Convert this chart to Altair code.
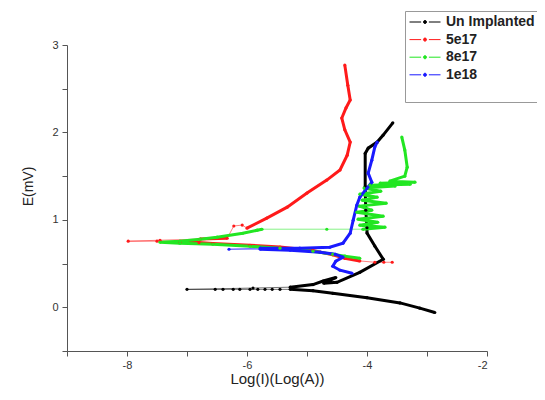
import altair as alt
import pandas as pd

series_names = ["Un Implanted", "5e17", "8e17", "1e18"]
series_colors = ["#000000", "#ff1a1a", "#22e622", "#1a1aff"]

# Un Implanted (black)
black_x = [-2.87, -3.12, -3.45, -4.0, -4.57, -4.9, -5.28, -5.45, -5.58, -5.7, -5.82, -5.95,
           -6.12, -6.23, -6.4, -6.53, -7.0, -5.9, -5.28, -4.9, -4.73, -4.52, -4.72, -4.5,
           -4.12, -3.73, -3.87, -4.0, -4.0, -4.02, -4.03, -4.03, -3.98, -3.83, -3.73, -3.57]
black_y = [-0.06, -0.01, 0.05, 0.11, 0.16, 0.19, 0.205, 0.205, 0.205, 0.205, 0.205, 0.205,
           0.205, 0.205, 0.205, 0.205, 0.205, 0.22, 0.23, 0.26, 0.30, 0.34, 0.275, 0.285,
           0.40, 0.55, 0.70, 0.85, 0.91, 1.11, 1.38, 1.76, 1.82, 1.89, 1.97, 2.11]
black_dense = [(0, 6), (18, 35)]

# 5e17 (red)
red_x = [-3.58, -3.72, -3.87, -4.12, -4.37, -4.57, -4.9, -5.45, -5.95, -6.57, -6.8, -7.12,
         -7.5, -7.98, -7.45, -6.78, -6.33, -6.22, -6.08, -6.0, -5.67, -5.33, -5.0, -4.67,
         -4.45, -4.33, -4.28, -4.37, -4.42, -4.35, -4.28, -4.32, -4.37]
red_y = [0.515, 0.515, 0.515, 0.53, 0.56, 0.60, 0.65, 0.69, 0.71, 0.73, 0.74, 0.745,
         0.756, 0.756, 0.767, 0.78, 0.79, 0.93, 0.94, 0.905, 1.02, 1.145, 1.306, 1.455,
         1.57, 1.74, 1.89, 2.03, 2.165, 2.28, 2.37, 2.54, 2.77]
red_dense = [(3, 11), (15, 16), (19, 32)]

# 8e17 (green)
green_x = [-4.12, -4.37, -4.57, -4.9, -5.45, -5.95, -6.57, -7.12, -7.45, -7.12, -6.78, -6.5,
           -6.07, -5.83, -5.75, -4.67, -4.07, -3.7, -4.12, -3.82, -4.15, -3.73, -4.17, -3.92,
           -4.13, -3.68, -4.08, -3.83, -4.12, -3.77, -4.05, -3.53, -3.95, -3.28, -3.78, -3.2,
           -3.62, -3.37, -3.33, -3.37, -3.42]
green_y = [0.56, 0.585, 0.607, 0.641, 0.676, 0.698, 0.721, 0.733, 0.744, 0.756, 0.779, 0.802,
           0.847, 0.882, 0.893, 0.893, 0.893, 0.916, 0.939, 0.973, 1.008, 1.042, 1.088, 1.111,
           1.157, 1.191, 1.225, 1.26, 1.294, 1.328, 1.363, 1.386, 1.397, 1.408, 1.42, 1.431,
           1.443, 1.5, 1.603, 1.798, 1.947]
green_dense = [(0, 14), (16, 40)]

# 1e18 (blue)
blue_x = [-4.25, -4.45, -4.57, -4.52, -4.4, -4.53, -4.78, -5.28, -5.78, -6.3, -5.78, -5.12,
          -4.62, -4.4, -4.28, -4.23, -4.17, -4.12, -4.0, -3.92, -3.98, -3.92, -3.87, -3.83]
blue_y = [0.389, 0.424, 0.469, 0.527, 0.573, 0.607, 0.63, 0.653, 0.664, 0.664, 0.676, 0.676,
          0.687, 0.733, 0.847, 0.996, 1.168, 1.26, 1.363, 1.431, 1.534, 1.683, 1.832, 1.889]
blue_dense = [(0, 8), (10, 23)]

all_x = [black_x, red_x, green_x, blue_x]
all_y = [black_y, red_y, green_y, blue_y]
all_dense = [black_dense, red_dense, green_dense, blue_dense]

rows, dense_rows = [], []
for name, xs, ys, runs in zip(series_names, all_x, all_y, all_dense):
    for i, (xv, yv) in enumerate(zip(xs, ys)):
        rows.append({"series": name, "x": xv, "y": yv, "i": i})
    for k, (a, b) in enumerate(runs):
        for i in range(a, b + 1):
            dense_rows.append({"series": name, "seg": f"{name}-{k}",
                               "x": xs[i], "y": ys[i], "i": i})
df = pd.DataFrame(rows)
df_dense = pd.DataFrame(dense_rows)

FONT = "Liberation Sans"
sym_path = "M-1,0H-0.25M0.25,0H1M-0.1,0A0.1,0.1,0,1,1,0.1,0A0.1,0.1,0,1,1,-0.1,0Z"


def make_legend():
    return alt.Legend(
        title=" ",
        titleOrient="bottom",
        titleFontSize=12,
        titlePadding=5,
        orient="none",
        legendX=338,
        legendY=-34,
        padding=4,
        strokeColor="#999999",
        fillColor="#ffffff",
        labelFont=FONT,
        labelFontSize=14,
        labelFontWeight="bold",
        labelColor="#222222",
        labelOffset=5,
        symbolType=sym_path,
        symbolSize=961,
        symbolStrokeWidth=1,
        symbolOpacity=1,
        clipHeight=14,
        rowPadding=3.6,
    )


scale = alt.Scale(domain=series_names, range=series_colors)

x_enc = alt.X(
    "x:Q",
    scale=alt.Scale(domain=[-9, -2], nice=False, zero=False),
    axis=alt.Axis(
        title="Log(I)(Log(A))",
        values=[-9, -8, -7, -6, -5, -4, -3, -2],
        labelExpr="datum.value % 2 == 0 ? '' + datum.value : ''",
        grid=False, tickSize=5, domainColor="#555555", tickColor="#555555",
        labelColor="#333333", labelFont=FONT, labelFontSize=11, labelPadding=3,
        titleFont=FONT, titleFontSize=15, titleFontWeight="normal", titleColor="#222222",
        titlePadding=1,
    ),
)
y_enc = alt.Y(
    "y:Q",
    scale=alt.Scale(domain=[-0.5, 3], nice=False, zero=False),
    axis=alt.Axis(
        title="E(mV)",
        values=[-0.5, 0, 0.5, 1, 1.5, 2, 2.5, 3],
        labelExpr="datum.value % 1 == 0 ? '' + datum.value : ''",
        grid=False, tickSize=5, domainColor="#555555", tickColor="#555555",
        labelColor="#333333", labelFont=FONT, labelFontSize=11, labelPadding=4,
        titleFont=FONT, titleFontSize=14, titleFontWeight="normal", titleColor="#222222",
        titleX=-32, titleY=141,
    ),
)

thin = alt.Chart(df).mark_line(strokeWidth=1, opacity=0.55).encode(
    x=x_enc, y=y_enc, order="i:Q",
    stroke=alt.Stroke("series:N", sort=series_names, scale=scale, legend=make_legend()),
)
thick = alt.Chart(df_dense).mark_line(strokeWidth=3).encode(
    x="x:Q", y="y:Q", order="i:Q", detail="seg:N",
    stroke=alt.Stroke("series:N", sort=series_names, scale=scale, legend=make_legend()),
)
points = alt.Chart(df).mark_point(filled=True, size=10, opacity=1).encode(
    x="x:Q", y="y:Q",
    fill=alt.Fill("series:N", sort=series_names, scale=scale, legend=make_legend()),
)

chart = (
    alt.layer(thin, thick, points)
    .properties(
        width=420,
        height=306,
        autosize=alt.AutoSizeParams(type="none"),
        padding={"left": 59, "top": 37, "right": 50, "bottom": 37},
    )
    .configure_view(stroke=None)
)

chart.save("out.html", embed_options={"renderer": "svg", "actions": False})
